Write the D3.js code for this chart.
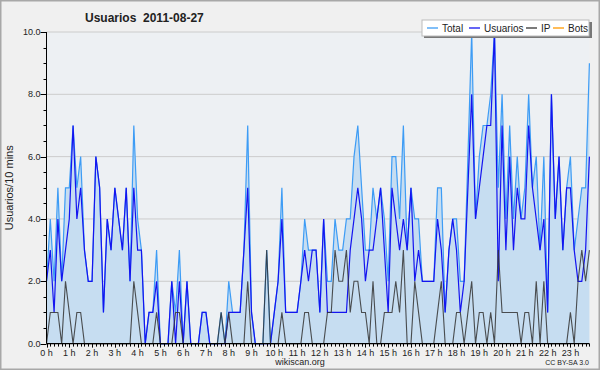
<!DOCTYPE html>
<html>
<head>
<meta charset="utf-8">
<script src="https://cdn.jsdelivr.net/npm/d3@7"></script>
<style>
  body { margin: 0; background: #fff; }
  svg { display: block; }
  text { font-family: "Liberation Sans", Arial, sans-serif; fill: #222; }
</style>
</head>
<body>
<script>
// 10-minute slots, 0:00 .. 23:50
const usuarios = [2,3,1,4,2,3,4,7,4,5,3,2,2,6,5,1,4,3,5,4,3,5,2,5,
  3,3,0,1,1,2,0,0,0,2,0,2,0,2,0,0,0,1,1,0,0,0,0,0,
  1,1,1,1,3,5,1,0,0,0,0,0,1,2,4,1,1,1,1,2,3,2,3,3,
  1,4,1,1,1,1,1,1,3,4,5,4,2,3,3,4,5,3,1,5,4,3,4,3,
  5,2,3,2,2,2,2,4,3,1,3,4,3,1,2,5,8,4,5,6,7,7,10,2,
  7,3,6,3,5,4,4,7,5,4,3,4,1,8,4,6,3,5,5,3,2,2,3,6];
const ip = [0,1,1,1,0,2,1,0,1,1,0,0,0,0,0,0,0,0,0,0,0,0,0,2,
  1,0,0,0,0,1,0,0,0,0,1,1,0,0,0,0,0,0,0,0,0,0,1,0,
  1,0,0,0,0,2,0,0,0,0,3,0,0,0,1,0,0,0,0,0,1,1,0,0,
  0,0,1,1,3,2,2,3,1,2,2,1,1,0,2,0,0,1,1,1,2,1,3,0,
  0,2,1,0,0,0,0,1,2,0,0,0,1,1,0,1,2,0,1,1,0,1,0,3,
  1,1,1,1,1,0,1,1,0,2,0,2,0,0,0,0,0,0,1,0,2,3,2,3];
const total = [2,4,2,5,2,5,5,7,5,6,3,2,2,6,5,1,4,3,5,4,3,5,2,7,
  4,3,0,1,1,3,0,0,0,2,1,3,0,2,0,0,0,1,1,0,0,0,1,0,
  2,1,1,1,3,7,1,0,0,0,3,0,1,2,5,1,1,1,1,2,4,3,3,3,
  1,4,2,2,4,3,3,4,4,6,7,5,3,3,5,4,5,4,2,6,6,4,7,3,
  5,4,4,2,2,2,2,5,5,1,3,4,4,2,2,6,10,4,6,7,7,8,10,5,
  8,4,7,4,6,4,5,8,5,6,3,6,1,8,4,6,3,5,6,3,4,5,5,9];
const bots = new Array(144).fill(0);
const hourLabels = d3.range(24).map(h => h + " h");
const yTicks = [0, 2, 4, 6, 8, 10];
const legendItems = ["Total", "Usuarios", "IP", "Bots"];
const legendColors = ["#3d9cf5", "#1414f0", "#333333", "#ff9900"];

const width = 600, height = 370;
const pLeft = 46.5, pRight = 593.2, pTop = 32, pBottom = 343.6;

const x = d3.scaleLinear().domain([0, 24]).range([pLeft, pRight]);
const y = d3.scaleLinear().domain([0, 10]).range([pBottom, pTop]);
const xi = (d, i) => x(i / 6);
const xEnd = x(23 + 5 / 6);

const svg = d3.select("body").append("svg")
  .attr("width", width).attr("height", height);

svg.append("rect")
  .attr("x", 0.75).attr("y", 0.75).attr("width", width - 1.5).attr("height", height - 1.5)
  .attr("fill", "#f0f0f0").attr("stroke", "#a8a8a8").attr("stroke-width", 1.5);

svg.append("rect")
  .attr("x", pLeft).attr("y", pTop).attr("width", xEnd - pLeft).attr("height", pBottom - pTop)
  .attr("fill", "#edf0f3");

// grid
svg.append("g").selectAll("line")
  .data(yTicks.slice(1))
  .join("line")
    .attr("x1", pLeft).attr("x2", xEnd)
    .attr("y1", d => y(d)).attr("y2", d => y(d))
    .attr("stroke", "#cccccc");

// area and lines
svg.append("path")
  .datum(total)
  .attr("fill", "#c6ddf1")
  .attr("d", d3.area().x(xi).y0(y(0)).y1(d => y(d)));

const line = d3.line().x(xi).y(d => y(d));

svg.append("path").datum(total)
  .attr("fill", "none").attr("stroke", legendColors[0]).attr("stroke-width", 1.2)
  .attr("d", line);
svg.append("path").datum(usuarios)
  .attr("fill", "none").attr("stroke", legendColors[1]).attr("stroke-width", 1.2)
  .attr("d", line);
svg.append("path").datum(ip)
  .attr("fill", "none").attr("stroke", legendColors[2]).attr("stroke-opacity", 0.85).attr("stroke-width", 1.1)
  .attr("d", line);

// y axis
const yAxis = svg.append("g");
yAxis.append("line")
  .attr("x1", pLeft).attr("x2", pLeft).attr("y1", pTop).attr("y2", pBottom)
  .attr("stroke", "#000");
yAxis.selectAll(".minor")
  .data(d3.range(0, 10.01, 0.5))
  .join("line")
    .attr("x1", d => d % 2 === 0 ? pLeft - 6 : pLeft - 3).attr("x2", pLeft)
    .attr("y1", d => Math.round(y(d)) + 0.5).attr("y2", d => Math.round(y(d)) + 0.5)
    .attr("stroke", "#000");
yAxis.selectAll("text")
  .data(yTicks)
  .join("text")
    .attr("x", pLeft - 6).attr("y", d => y(d) + 3)
    .attr("text-anchor", "end").attr("font-size", 9)
    .text(d => d.toFixed(1));

// x axis
const xAxis = svg.append("g");
xAxis.append("line")
  .attr("x1", pLeft).attr("x2", xEnd).attr("y1", pBottom).attr("y2", pBottom)
  .attr("stroke", "#000").attr("stroke-width", 1.2);
xAxis.selectAll("line.t")
  .data(d3.range(0, 144))
  .join("line")
    .attr("class", "t")
    .attr("x1", (d, i) => Math.round(xi(d, i)) + 0.5).attr("x2", (d, i) => Math.round(xi(d, i)) + 0.5)
    .attr("y1", pBottom).attr("y2", (d, i) => i % 6 === 0 ? pBottom + 4 : pBottom + 3)
    .attr("stroke", "#000");
xAxis.selectAll("text")
  .data(hourLabels)
  .join("text")
    .attr("x", (d, i) => x(i)).attr("y", pBottom + 12)
    .attr("text-anchor", "middle").attr("font-size", 9)
    .text(d => d);

svg.append("text")
  .attr("x", 300).attr("y", 365)
  .attr("text-anchor", "middle").attr("font-size", 9)
  .text("wikiscan.org");
svg.append("text")
  .attr("x", 589).attr("y", 365)
  .attr("text-anchor", "end").attr("font-size", 7).attr("fill", "#555")
  .text("CC BY-SA 3.0");

svg.append("text")
  .attr("transform", `translate(13,${(pTop + pBottom) / 2}) rotate(-90)`)
  .attr("text-anchor", "middle")
  .attr("font-family", "DejaVu Sans Mono").attr("font-size", 11)
  .text("Usuarios/10 mins");

svg.append("text")
  .attr("x", 85).attr("y", 22)
  .attr("font-size", 12).attr("font-weight", "bold")
  .style("white-space", "pre")
  .text("Usuarios  2011-08-27");

// legend
const lg = svg.append("g");
lg.append("rect").attr("x", 424).attr("y", 22).attr("width", 168).attr("height", 16).attr("fill", "#777");
lg.append("rect").attr("x", 422).attr("y", 20).attr("width", 167).attr("height", 16)
  .attr("fill", "#fff").attr("stroke", "#bbb");
const legendX = [427, 469, 526, 553];
const item = lg.selectAll("g")
  .data(legendItems)
  .join("g")
    .attr("transform", (d, i) => `translate(${legendX[i]},28)`);
item.append("line")
  .attr("x1", 0).attr("x2", 11).attr("stroke", (d, i) => legendColors[i]).attr("stroke-width", 1.3);
item.append("text")
  .attr("x", 15).attr("y", 4).attr("font-size", 10)
  .text(d => d);
</script>
</body>
</html>
